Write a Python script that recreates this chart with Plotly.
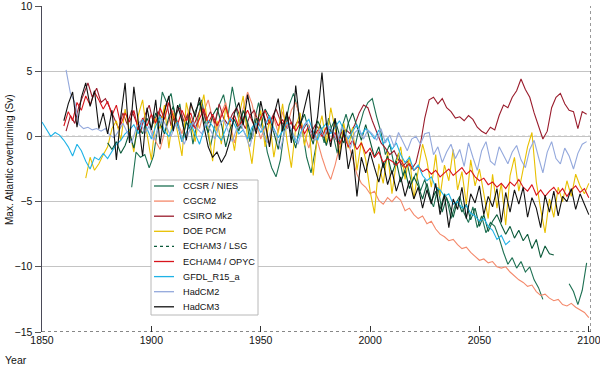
import plotly.graph_objects as go

# ---------------- data (deviations, Sv) ----------------
names = ["CCSR / NIES", "CGCM2", "CSIRO Mk2", "DOE PCM", "ECHAM3 / LSG",
         "ECHAM4 / OPYC", "GFDL_R15_a", "HadCM2", "HadCM3"]
colors = ["#1d7052", "#f4896b", "#9a1c2c", "#e8c000", "#0b5a3a",
          "#d8141c", "#1fb2e6", "#93a8dc", "#111111"]

ccsr_start = 1891
ccsr = [-3.9, -1.2, -1.6, -1.4, -2.4, -1.5, 0.8, 3.4, 2.6, 3.3,
        1.4, 2.5, 0.4, 1.8, -0.6, 1.2, 2.8, 1.0, -0.8, 0.9,
        2.4, 3.2, 1.5, 3.8, 2.0, 0.6, 1.9, -0.4, 1.1, 2.6,
        0.8, -1.2, -2.4, -3.1, -1.8, 0.7, 2.4, 3.3, 2.1, 0.5,
        -1.6, -2.8, -1.0, 0.9, -0.5, 1.4, 0.2, -1.3, 0.6, 1.7,
        0.4, -0.9, 0.7, 1.9, 2.6, 2.9, 1.5, 0.3, -1.4, -0.6,
        -2.2, -1.3, -3.0, -2.1, -3.6, -2.8, -4.2, -3.3, -4.6, -5.4,
        -3.9, -5.8, -4.7, -6.3, -5.2, -4.6, -5.9, -6.6, -5.4, -7.0,
        -6.1, -7.4, -6.6, -6.9, -7.8, -8.9, -9.8, -9.3, -10.1, -9.6,
        -10.4, -10.0, -11.0, -11.6, -12.5,
        None, None, None, None, None,
        -11.3, -11.9, -12.9, -11.8, -9.7]

cgcm2_start = 1900
cgcm2 = [0.6, -0.4, -1.0, 0.3, 1.2, 2.0, 1.1, 0.2, 1.5, 2.4,
         1.6, 0.6, 1.9, 2.8, 1.3, 0.4, 1.8, 2.6, 1.0, -0.5,
         0.9, 2.2, 3.4, 2.5, 1.0, -0.2, 0.8, -0.6, 1.4, 0.3,
         1.9, 0.7, 2.0, 2.6, 1.5, 0.2, -0.9, 0.4, -0.4, -1.6,
         -2.6, -3.3, -2.2, -0.8, 0.4, -0.5, -1.8, -2.9, -3.6, -3.9,
         -4.4, -4.2, -4.9, -5.2, -4.7, -5.0, -4.6, -4.9, -5.7, -5.5,
         -6.0, -6.3, -6.1, -6.7, -6.5, -7.1, -7.5, -7.7, -8.0, -7.9,
         -8.3, -8.6, -8.5, -8.9, -9.2, -9.5, -9.4, -9.7, -9.6, -10.0,
         -10.1, -10.0, -10.4, -10.7, -11.0, -11.2, -11.5, -11.4, -11.9, -12.2,
         -12.1, -12.4, -12.6, -12.5, -12.9, -13.0, -12.8, -13.1, -13.3, -13.5,
         -13.9]

csiro_start = 1861
csiro = [0.4, 1.6, 1.0, 2.4, 3.2, 4.1, 3.0, 3.7, 2.6, 2.9,
         2.2, 1.4, 0.6, 1.8, 0.9, 2.0, 1.2, 0.3, 1.6, 2.4,
         1.0, 1.9, 1.4, 2.6, 0.8, 1.7, 2.2, 1.1, 1.8, 0.7,
         1.5, 2.3, 1.2, 1.9, 1.0, 2.5, 1.4, 0.9, 1.7, 2.2,
         1.3, 0.6, 1.6, 2.0, 1.1, 1.8, 0.9, 1.4, 2.1, 1.2,
         0.8, 1.5, 0.6, 1.2, 0.4, 1.0, 0.3, 0.9, 0.5, -0.1,
         0.6, 0.2, -0.4, 0.3, 0.5, 0.2, 0.9, 1.8, 2.4, 2.2,
         1.2, 0.3, -0.5, -0.9, -1.4, -1.1, -1.8, -2.3, -1.9, -2.5,
         -2.0, -0.6, 1.4, 2.8, 3.0, 2.5, 2.9, 2.2, 1.9, 1.4,
         1.5, 1.2, 1.6, 1.3, 0.7, 0.4, 0.2, 0.7, 0.5, 1.6,
         2.4, 2.2, 3.0, 3.5, 4.4, 3.6, 3.0, 1.8, 0.8, -0.2,
         0.4, 2.2, 3.0, 3.3, 2.5, 2.0, 1.9, 0.6, 1.9, 1.7]

doe_start = 1870
doe = [-3.2, -1.6, -2.6, -2.1, -1.4, -0.8, 0.6, 1.2, -0.3, 2.1,
       0.4, -1.2, 1.6, 2.8, 0.2, -1.8, 1.4, 0.6, 2.4, -0.9,
       1.8, 0.3, -1.5, 2.6, 1.0, -0.4, 1.7, 3.2, 0.5, -1.9,
       1.2, -0.6, 2.3, 0.8, -1.1, 1.5, 3.1, -0.2, -2.1, 0.9,
       2.0, -0.8, 1.3, -1.6, 0.4, 2.5, -0.3, -2.4, 0.7, 1.8,
       -0.7, 0.9, -3.0, 0.2, 1.6, -0.5, 2.2, 0.6, -1.4, 1.0,
       -0.9, 0.7, -2.6, -0.4, -1.8, -4.2, -5.9, -2.1, -3.6, -1.2,
       -4.4, -2.0, -0.8, -3.3, -1.5, -4.8, -2.6, -0.6, -1.9, -3.9,
       -1.4, -4.6, -2.2, -3.4, -1.0, -4.1, -2.7, -5.2, -1.8, -3.8,
       -2.5, -4.5, -6.3, -2.9, -5.5, -3.6, -6.8, -3.0, -1.6, -4.2,
       -2.4, -0.8, 0.3, -3.5, -5.6, -7.4, -4.8, -6.2, -3.9, -5.0,
       -3.4, -4.6, -2.9, -3.8, -4.4, -3.6]

echam3_start = 1880
echam3 = [-0.5, -1.0, -0.4, -1.3, -0.7, 0.3, -0.9, 0.8, 0.2, 1.4,
          0.6, 1.8, 1.0, 0.2, 1.5, 2.3, 0.9, -0.4, 1.1, 0.5,
          1.9, 2.6, 1.2, 0.3, 1.6, 2.2, 1.0, -0.8, 0.6, 1.3,
          0.4, 2.0, 1.1, -0.2, 1.4, 0.7, 2.1, 1.5, 0.3, -1.0,
          0.8, 1.6, 0.2, -0.9, 0.9, 1.7, 0.4, -0.6, 1.2, 0.5,
          -0.7, 0.6, 1.3, 0.1, -0.5, 1.0, 1.8, 0.7, -0.3, 0.9,
          -0.4, -1.6, -0.8, -2.4, -1.5, -2.9, -1.9, -3.5, -2.6, -4.0,
          -3.1, -3.8, -4.8, -3.6, -5.0, -4.2, -5.6, -4.4, -5.1, -6.2,
          -4.9, -5.8, -5.2, -6.4, -5.5, -6.9, -6.0, -7.3, -6.5, -6.0,
          -6.8, -7.5, -6.9, -7.8, -7.2, -8.0, -7.5, -8.6, -7.9, -9.3,
          -8.4, -9.0, -9.1]

echam4_start = 1860
echam4 = [0.8, 1.9, 1.2, 2.6, 2.0, 3.1, 2.4, 3.4, 2.8, 2.1,
          2.7, 1.6, 2.4, 0.9, 1.8, 1.1, 2.0, 0.5, 1.4, 0.8,
          1.7, 1.0, 2.2, 1.3, 2.6, 1.5, 0.9, 2.0, 1.2, 1.8,
          0.6, 1.4, 2.1, 1.0, 1.7, 0.8, 1.5, 2.3, 1.1, 1.6,
          0.7, 1.3, 2.0, 1.2, 0.5, 1.4, 2.0, 1.0, 1.6, 0.8,
          1.3, 0.6, 1.1, 0.4, 1.0, 0.2, 0.8, -0.2, 0.5, 0.0,
          0.7, -0.4, 0.3, -0.6, 0.1, -0.8, -0.3, -1.0, -0.5, -1.3,
          -0.9, -1.6, -1.2, -2.0, -1.7, -1.9, -2.2, -1.8, -2.4, -2.1,
          -2.6, -2.3, -2.7, -2.5, -2.9, -2.6, -3.1, -2.8, -2.5, -3.0,
          -2.7, -2.4, -2.9, -2.6, -3.1, -3.4, -3.2, -3.7, -3.5, -3.9,
          -3.6, -4.0, -3.5, -3.8, -3.3, -3.9, -4.2, -3.7, -4.5, -4.1,
          -4.6, -4.2, -3.9, -4.4, -4.0, -4.6, -4.1, -3.8, -4.3, -4.0,
          -4.7]

gfdl_start = 1850
gfdl = [1.1, 0.6, 0.0, 0.3, 0.1, -0.3, -0.8, -1.5, -0.6, -1.1,
        -1.9, -2.5, -1.6, -1.8, -1.3, -1.7, -1.1, -0.6, -0.3, 0.2,
        0.5, 0.9, 0.2, 1.3, 0.6, -0.2, 0.8, 1.5, 0.4, 0.0,
        0.7, 1.1, -0.4, 0.3, 1.0, 0.2, -0.6, 0.5, 1.2, 0.8,
        0.1, -0.3, 0.6, 1.4, 0.9, 0.2, 0.5, -0.2, 0.7, 1.0,
        0.3, 0.8, 1.6, 0.6, -0.1, 0.4, 1.1, 0.5, -0.5, 0.2,
        0.9, 1.3, 0.4, -0.3, 0.6, 1.0, 0.2, 0.7, 1.2, 0.5,
        -0.2, 0.4, 0.9, 0.1, 0.6,
        0.3, -0.2, 0.5, -0.6, -0.1, -1.0, -0.5, -1.4, -2.0, -1.6,
        -2.6, -2.2, -3.0, -3.4, -3.1, -3.9, -4.1, -4.6, -4.4, -5.2,
        -5.0, -5.5, -5.3, -5.9, -6.1, -6.5, -6.3, -6.9, -7.2, -7.9,
        -7.6, -8.3, -8.0]

hadcm2_start = 1861
hadcm2 = [5.1, 3.3, 2.6, 0.9, 0.6, 0.7, 0.5, 0.6, 0.4, 0.6, 0.1,
          -0.1, 0.4, 1.0, 0.3, -0.5, 0.6, 1.2, 0.2, 0.8, -0.3,
          0.5, 1.4, 0.7, 0.0, 0.9, 0.4, -0.6, 0.3, 1.1, 0.6,
          0.2, 1.0, 0.5, -0.2, 0.8, 1.3, 0.4, -0.4, 0.6, 0.9,
          0.1, -0.8, 0.5, 1.2, 0.3, -0.5, 0.7, 0.2, -1.0, 0.4,
          0.9, 0.1, -0.6, 0.5, 1.1, 0.3, -0.3, 0.6, 0.0, 0.8,
          0.4, -0.4, 0.7, 0.2, -0.9, 0.3, 0.6, -0.2, 0.5,
          0.2, -0.3, 0.6, -0.5, 0.1, -0.8, 0.3, -0.4, -1.1, -0.2,
          0.0, -0.6, 0.2, 0.3, -1.4, -0.8, -2.0, -1.2, -0.6, -1.7,
          -1.0, -2.3, -0.5, -1.6, -2.6, -1.1, -0.4, -1.9, -2.2, -0.8,
          -1.5, -2.1, -1.2, -0.7, -1.8, -2.4, -1.0, -0.3, -1.6, -2.8,
          -1.2, -0.4, -1.7, -2.1, -0.9, -1.5, -2.5, -1.3, -0.6, -0.4]

hadcm3_start = 1860
hadcm3 = [1.2, 2.5, 3.4, 0.7, 3.0, 4.1, 2.3, 3.5, 0.6, 1.8,
          0.2, 2.0, -1.8, 1.5, 4.1, -0.5, 3.8, 1.0, -1.5, 2.2,
          0.5, 2.8, -0.6, 1.9, 3.1, 0.4, 2.4, 1.2, -0.3, 2.6,
          1.5, 3.0, 0.8, -0.8, -1.6, -1.2, -2.0, -1.4, -0.3, 1.8,
          2.6, 0.9, 3.2, 1.4, 0.2, 2.7, 1.1, -0.8, 1.6, 2.9,
          0.4, 1.9, -0.5, 3.9, 0.8, 2.2, 3.6, -0.2, 1.5, 4.9,
          1.0, -0.8, 1.4, -1.8, 0.5, -2.5, -1.0, -4.6, -1.6, -2.8,
          -1.2, -2.4, -3.5, -2.0, -3.7, -2.6, -4.2, -3.1, -4.6, -3.4,
          -4.8, -3.9, -5.5, -4.1, -5.2, -3.6, -6.0, -4.5, -7.0, -4.8,
          -5.6, -3.9, -6.3, -4.4, -5.1, -3.8, -6.0, -4.6, -5.4, -4.0,
          -6.6, -4.3, -5.8, -4.1, -5.2, -3.9, -6.2, -4.7, -5.5, -7.0,
          -4.5, -5.8, -4.2, -6.1, -4.6, -5.0, -4.0, -5.6, -4.4, -5.2,
          -6.0]

series = [(ccsr_start, ccsr), (cgcm2_start, cgcm2), (csiro_start, csiro),
          (doe_start, doe), (echam3_start, echam3), (echam4_start, echam4),
          (gfdl_start, gfdl), (hadcm2_start, hadcm2), (hadcm3_start, hadcm3)]
step = 2

x_ticks = [1850, 1900, 1950, 2000, 2050, 2100]
y_ticks = [-15, -10, -5, 0, 5, 10]
y_labels = ["\u221215", "\u221210", "\u22125", "0", "5", "10"]

# ---------------- figure ----------------
FONT = "Liberation Sans, Arial, sans-serif"
L, R, T, B = 42, 9, 6, 36
W, H = 600, 368
PW, PH = W - L - R, H - T - B


def px(xpix):
    return (xpix - L) / PW


def py(ypix):
    return (H - B - ypix) / PH


fig = go.Figure()
for name, col, (start, vals) in zip(names, colors, series):
    years = [start + step * i for i in range(len(vals))]
    fig.add_trace(go.Scatter(x=years, y=vals, mode="lines", name=name,
                             line=dict(color=col, width=1.1),
                             connectgaps=False, showlegend=False))

fig.update_layout(
    width=W, height=H,
    margin=dict(l=L, r=R, t=T, b=B, autoexpand=False),
    paper_bgcolor="white", plot_bgcolor="white",
    font=dict(family=FONT, size=10.5, color="#111"),
    showlegend=False,
)
fig.update_xaxes(range=[1850, 2101], tickvals=x_ticks,
                 ticks="inside", ticklen=6, tickcolor="#333", tickwidth=1,
                 showgrid=False, zeroline=False, showline=False,
                 automargin=False, ticklabeloverflow="allow",
                 tickfont=dict(size=10.5))
fig.update_yaxes(range=[-15, 10], tickvals=y_ticks, ticktext=y_labels,
                 ticks="outside", ticklen=6, tickcolor="#555",
                 showgrid=True, gridcolor="#c4c4c4", gridwidth=1,
                 zeroline=False, showline=True, linecolor="#4a4a58",
                 linewidth=1.5, automargin=False, ticklabeloverflow="allow",
                 tickfont=dict(size=10.5))

shapes = [
    dict(type="line", xref="paper", yref="y", x0=0, x1=1, y0=0, y1=0,
         line=dict(color="#111", width=1, dash="dot"), layer="below"),
    dict(type="line", xref="paper", yref="y", x0=0, x1=1, y0=-15, y1=-15,
         line=dict(color="#111", width=1.2, dash="dot"), layer="above"),
    dict(type="line", xref="x", yref="paper", x0=2101, x1=2101, y0=0, y1=1,
         line=dict(color="#333", width=1, dash="dot"), layer="above"),
]

# manual legend box (positions in pixels converted to paper coords)
lx0, lx1, ly0, ly1 = 151, 258, 180, 315
shapes.append(dict(type="rect", xref="paper", yref="paper",
                   x0=px(lx0), x1=px(lx1), y0=py(ly1), y1=py(ly0),
                   fillcolor="white", line=dict(color="#b8b8b8", width=1),
                   layer="above"))
annotations = []
for i, (name, col) in enumerate(zip(names, colors)):
    yy = 186 + 15.1 * i
    dash = "dot" if name == "ECHAM3 / LSG" else "solid"
    shapes.append(dict(type="line", xref="paper", yref="paper",
                       x0=px(154), x1=px(174), y0=py(yy), y1=py(yy),
                       line=dict(color=col, width=1.3, dash=dash), layer="above"))
    annotations.append(dict(text=name, xref="paper", yref="paper",
                            x=px(181), y=py(yy), xanchor="left", yanchor="middle",
                            showarrow=False, font=dict(size=9.2, color="#111")))

annotations.append(dict(text="Year", xref="paper", yref="paper", x=px(3), y=py(360),
                        xanchor="left", yanchor="middle", showarrow=False,
                        font=dict(size=10.5)))
annotations.append(dict(text="Max. Atlantic overturning (Sv)", xref="paper",
                        yref="paper", x=px(9), y=py(160), xanchor="center",
                        yanchor="middle", textangle=-90, showarrow=False,
                        font=dict(size=10)))

fig.update_layout(shapes=shapes, annotations=annotations)
fig.write_html("out.html",
               config={"displayModeBar": False, "staticPlot": True},
               post_script="document.body.style.margin='0';"
                           "document.body.style.padding='0';")
